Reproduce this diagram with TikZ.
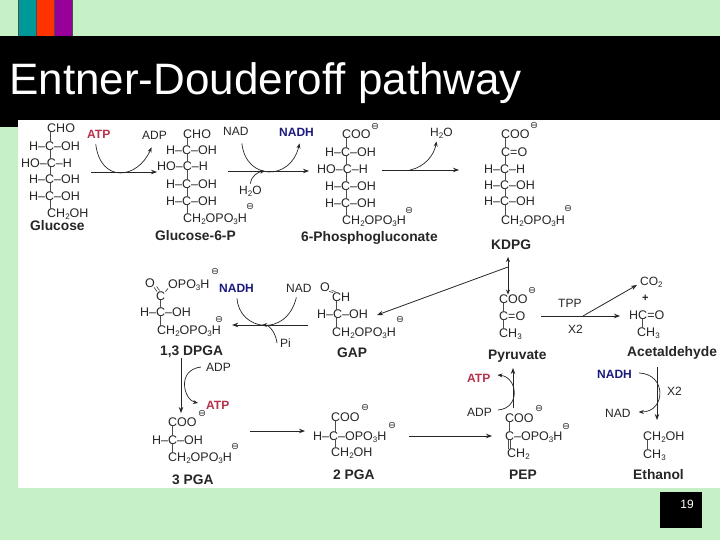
\documentclass[tikz,border=0pt]{standalone}
\usepackage{fontspec}
\setmainfont[Ligatures=NoCommon]{Liberation Sans}
\newfontfamily\djv{DejaVu Sans}
\usetikzlibrary{arrows.meta,calc}
\definecolor{slidegreen}{HTML}{C6F0C6}
\definecolor{atpred}{HTML}{B8304A}
\definecolor{nadblue}{HTML}{1B1B7F}
\definecolor{sqteal}{HTML}{009999}
\definecolor{sqorange}{HTML}{FF3300}
\definecolor{sqpurple}{HTML}{990099}
\newcommand\sbs[1]{\raisebox{-0.3ex}{\fontsize{8}{9}\selectfont #1}}
\newcommand\bnd[3]{\draw[bondline] (#3,0 |- #1.south) -- (#3,0 |- #2.north);}
\tikzset{
  chem/.style={anchor=west,inner sep=0pt,text height=8.5pt,text depth=0pt,font=\fontsize{12.5}{14}\selectfont,text=black!85},
  cof/.style={anchor=west,inner sep=0pt,text height=8.5pt,text depth=0pt,font=\fontsize{12}{14}\selectfont,text=black!85},
  redcof/.style={cof,font=\bfseries\fontsize{12}{14}\selectfont,text=atpred},
  bluecof/.style={cof,font=\bfseries\fontsize{12}{14}\selectfont,text=nadblue},
  lab/.style={anchor=west,inner sep=0pt,font=\bfseries\fontsize{13.8}{15}\selectfont,text=black!85},
  chg/.style={inner sep=0pt,font=\djv\fontsize{9.5}{10}\selectfont,text=black!85},
  bondline/.style={line width=0.7pt,black!70},
  rx/.style={line width=0.8pt,black!85,-{Stealth[length=6pt,width=4.5pt]}},
  cv/.style={line width=0.7pt,black!85},
  cva/.style={line width=0.7pt,black!85,-{Stealth[length=5pt,width=4pt]}},
}
\begin{document}
\begin{tikzpicture}[x=1pt,y=-1pt]
\useasboundingbox (0,0) rectangle (720,540);
% slide
\fill[slidegreen] (0,0) rectangle (720,540);
\filldraw[fill=sqteal,draw=black!70,line width=0.5pt] (18.5,-1) rectangle (36.5,36);
\filldraw[fill=sqorange,draw=black!70,line width=0.5pt] (36.5,-1) rectangle (54.5,36);
\filldraw[fill=sqpurple,draw=black!70,line width=0.5pt] (54.5,-1) rectangle (72.5,36);
\fill[black] (0,36) rectangle (720,120);
\fill[black] (0,120) rectangle (18,127);
\fill[white] (18,120) rectangle (720,488);
\node[anchor=west,inner sep=0pt,text=white,font=\fontsize{44}{46}\selectfont] (title) at (9,83) {Entner-Douderoff pathway};
\fill[black] (660,492) rectangle (702,528);
\node[inner sep=0pt,text=white,font=\fontsize{12}{14}\selectfont] (page) at (687,504) {19};

% Glucose
\node[chem] (gl1) at (47,128) {CHO};
\node[chem] (gl2) at (29,146) {H–C–OH};
\node[chem] (gl3) at (21,163) {HO–C–H};
\node[chem] (gl4) at (29,179) {H–C–OH};
\node[chem] (gl5) at (29,196) {H–C–OH};
\node[chem] (gl6) at (47,213) {CH\sbs{2}OH};
\node[lab] (gl) at (30,226) {Glucose};
\bnd{gl1}{gl2}{50}\bnd{gl2}{gl3}{50}\bnd{gl3}{gl4}{50}\bnd{gl4}{gl5}{50}\bnd{gl5}{gl6}{50}

% Glucose-6-P
\node[chem] (gp1) at (183,134) {CHO};
\node[chem] (gp2) at (166,150) {H–C–OH};
\node[chem] (gp3) at (157,166) {HO–C–H};
\node[chem] (gp4) at (166,184) {H–C–OH};
\node[chem] (gp5) at (166,201) {H–C–OH};
\node[chem] (gp6) at (183,218) {CH\sbs{2}OPO\sbs{3}H};
\node[chg] (gpc) at (250,207) {⊖};
\node[lab] (gp) at (155,236) {Glucose-6-P};
\bnd{gp1}{gp2}{187}\bnd{gp2}{gp3}{187}\bnd{gp3}{gp4}{187}\bnd{gp4}{gp5}{187}\bnd{gp5}{gp6}{187}

% 6-Phosphogluconate
\node[chem] (pg1) at (342,134) {COO};
\node[chg] (pg1c) at (375,127) {⊖};
\node[chem] (pg2) at (325,152) {H–C–OH};
\node[chem] (pg3) at (317,169) {HO–C–H};
\node[chem] (pg4) at (325,186) {H–C–OH};
\node[chem] (pg5) at (325,203) {H–C–OH};
\node[chem] (pg6) at (342,220) {CH\sbs{2}OPO\sbs{3}H};
\node[chg] (pg6c) at (409,211) {⊖};
\node[lab] (pg) at (301,238) {6-Phosphogluconate};
\bnd{pg1}{pg2}{346}\bnd{pg2}{pg3}{346}\bnd{pg3}{pg4}{346}\bnd{pg4}{pg5}{346}\bnd{pg5}{pg6}{346}

% KDPG
\node[chem] (kd1) at (501,134) {COO};
\node[chg] (kd1c) at (534,126) {⊖};
\node[chem] (kd2) at (501,152) {C=O};
\node[chem] (kd3) at (484,169) {H–C–H};
\node[chem] (kd4) at (484,185) {H–C–OH};
\node[chem] (kd5) at (484,201) {H–C–OH};
\node[chem] (kd6) at (501,220) {CH\sbs{2}OPO\sbs{3}H};
\node[chg] (kd6c) at (568,209) {⊖};
\node[lab] (kd) at (491,245) {KDPG};
\bnd{kd1}{kd2}{505}\bnd{kd2}{kd3}{505}\bnd{kd3}{kd4}{505}\bnd{kd4}{kd5}{505}\bnd{kd5}{kd6}{505}

% Pyruvate
\node[chem] (py1) at (499,299) {COO};
\node[chg] (py1c) at (532,291) {⊖};
\node[chem] (py2) at (499,316) {C=O};
\node[chem] (py3) at (499,333) {CH\sbs{3}};
\node[lab] (py) at (488,356) {Pyruvate};
\bnd{py1}{py2}{503}\bnd{py2}{py3}{503}

% Acetaldehyde
\node[cof] (co2) at (640,281) {CO\sbs{2}};
\node[chem,font=\bfseries\fontsize{11}{12}\selectfont] (plus) at (642,297) {+};
\node[chem] (ac1) at (629,315) {HC=O};
\node[chem] (ac2) at (637,332) {CH\sbs{3}};
\node[lab] (ac) at (627,353) {Acetaldehyde};
\bnd{ac1}{ac2}{642}

% Ethanol
\node[chem] (et1) at (643,436) {CH\sbs{2}OH};
\node[chem] (et2) at (643,454) {CH\sbs{3}};
\node[lab] (et) at (633,475) {Ethanol};
\bnd{et1}{et2}{647}

% GAP
\node[chem] (ga0) at (320,287) {O};
\node[chem] (ga1) at (332,297) {CH};
\node[chem] (ga2) at (317,314) {H–C–OH};
\node[chem] (ga3) at (332,332) {CH\sbs{2}OPO\sbs{3}H};
\node[chg] (ga3c) at (400,320) {⊖};
\node[lab] (ga) at (337,353) {GAP};
\bnd{ga1}{ga2}{336}\bnd{ga2}{ga3}{336}
\draw[bondline] ([xshift=-1pt]ga0.south east) -- ([xshift=1pt]ga1.north west);
\draw[bondline] ([xshift=1.5pt,yshift=1pt]ga0.south east) -- ([xshift=3.5pt,yshift=1pt]ga1.north west);

% 1,3 DPGA
\node[chem] (dp0) at (145,283) {O};
\node[chem] (dpo) at (168,284) {OPO\sbs{3}H};
\node[chg] (dpoc) at (215,272) {⊖};
\node[chem] (dpc) at (156,296) {C};
\node[chem] (dp1) at (140,312) {H–C–OH};
\node[chem] (dp2) at (157,330) {CH\sbs{2}OPO\sbs{3}H};
\node[chg] (dp2c) at (219,320) {⊖};
\node[lab] (dp) at (160,352) {1,3 DPGA};
\draw[bondline] ([xshift=-1pt]dp0.south east) -- ([xshift=1pt]dpc.north west);
\draw[bondline] ([xshift=1.5pt,yshift=1pt]dp0.south east) -- ([xshift=3.5pt,yshift=1pt]dpc.north west);
\draw[bondline] (dpc.north east) -- (dpo.south west);
\bnd{dpc}{dp1}{160}\bnd{dp1}{dp2}{160}

% 3 PGA
\node[chem] (tp1) at (168,422) {COO};
\node[chg] (tp1c) at (202,414) {⊖};
\node[chem] (tp2) at (152,440) {H–C–OH};
\node[chem] (tp3) at (168,457) {CH\sbs{2}OPO\sbs{3}H};
\node[chg] (tp3c) at (235,447) {⊖};
\node[lab] (tp) at (172,480) {3 PGA};
\bnd{tp1}{tp2}{172}\bnd{tp2}{tp3}{172}

% 2 PGA
\node[chem] (sp1) at (331,417) {COO};
\node[chg] (sp1c) at (365,408) {⊖};
\node[chem] (sp2) at (313,436) {H–C–OPO\sbs{3}H};
\node[chg] (sp2c) at (392,426) {⊖};
\node[chem] (sp3) at (331,452) {CH\sbs{2}OH};
\node[lab] (sp) at (333,475) {2 PGA};
\bnd{sp1}{sp2}{335}\bnd{sp2}{sp3}{335}

% PEP
\node[chem] (pe1) at (505,418) {COO};
\node[chg] (pe1c) at (539,409) {⊖};
\node[chem] (pe2) at (505,436) {C–OPO\sbs{3}H};
\node[chg] (pe2c) at (566,427) {⊖};
\node[chem] (pe3) at (507,453) {CH\sbs{2}};
\node[lab] (pe) at (509,475) {PEP};
\bnd{pe1}{pe2}{509}
\draw[bondline] (508.2,0 |- pe2.south) -- (508.2,0 |- pe3.north);
\draw[bondline] (510.2,0 |- pe2.south) -- (510.2,0 |- pe3.north);

% Cofactors
\node[redcof] (atp1) at (87,134) {ATP};
\node[cof] (adp1) at (142,135) {ADP};
\node[cof] (nad1) at (223,131) {NAD};
\node[bluecof] (nadh1) at (279,132) {NADH};
\node[cof] (wat1) at (239,190) {H\sbs{2}O};
\node[cof] (wat2) at (430,132) {H\sbs{2}O};
\node[cof] (tpp) at (558,303) {TPP};
\node[cof] (x2a) at (568,329) {X2};
\node[bluecof] (nadh2) at (219,288) {NADH};
\node[cof] (nad2) at (286,288) {NAD};
\node[cof] (pi) at (280,343) {Pi};
\node[cof] (adp2) at (206,367) {ADP};
\node[redcof] (atp2) at (206,405) {ATP};
\node[redcof] (atp3) at (467,378) {ATP};
\node[cof] (adp3) at (467,412) {ADP};
\node[bluecof] (nadh3) at (597,374) {NADH};
\node[cof] (nad3) at (605,413) {NAD};
\node[cof] (x2b) at (667,391) {X2};

% Reaction arrows
\draw[rx] ([xshift=19pt,yshift=-9pt]gl3.east) -- ([yshift=-6pt]gp3.west);
\draw[rx] ([xshift=-89pt,yshift=-2pt]pg3.west) -- ([xshift=-8pt,yshift=-2pt]pg3.west);
\draw[rx] ([xshift=14pt,yshift=-1pt]pg3.east) -- ([xshift=-25pt,yshift=-1pt]kd3.west);
\coordinate (kdin) at (508,257);
\coordinate (junc) at (508,267);
\draw[rx,{Stealth[length=5pt,width=4pt]}-{Stealth[length=5pt,width=4pt]}] (kdin) -- (py1.north -| junc);
\draw[rx] (junc) -- ([xshift=9pt,yshift=-1pt]ga2.east);
\draw[rx] ([xshift=16pt]py2.east) -- ([xshift=-9pt,yshift=-1pt]ac1.west);
\coordinate (brk) at (583,316);
\draw[rx] (brk) -- ([xshift=-3pt,yshift=-4pt]co2.west);
\draw[rx] ([xshift=-24pt,yshift=7pt]ga3.west) -- ([xshift=11pt,yshift=5pt]dp2.east);
\coordinate (dpbot) at (181,358);
\coordinate (tptop) at (181,413);
\draw[rx] (dpbot) -- (tptop);
\draw[rx] ([xshift=47pt,yshift=9pt]tp2.east) -- ([xshift=-8pt,yshift=5pt]sp2.west);
\draw[rx] ([xshift=22pt]sp2.east) -- ([xshift=-13pt]pe2.west);
\coordinate (pebot) at (513,408);
\coordinate (pytop) at (513,368);
\draw[rx] (pebot) -- (pytop);
\coordinate (actbot) at (657,367);
\coordinate (ettop) at (657,420);
\draw[rx] (actbot) -- (ettop);

% Cofactor curves (second control point is relative to the curve's end)
\draw[cva] ([xshift=-3pt,yshift=-6pt]atp1.south) .. controls +(5,39) and +(-14,32) .. ([xshift=-3pt,yshift=-8pt]adp1.south);
\draw[cva] ([xshift=6pt,yshift=-8pt]nad1.south) .. controls +(4,37) and +(-9,38) .. ([xshift=3pt,yshift=-7pt]nadh1.south);
\coordinate (wjn) at (265,171);
\draw[cva] ([yshift=2pt]wat1.north) .. controls +(1,-8) and +(-7,1) .. (wjn);
\coordinate (kjn) at (410,170);
\draw[cva] (kjn) .. controls +(15,-3) and +(-2,13) .. ([xshift=-5pt,yshift=-5pt]wat2.south);
\draw[cv] ([xshift=0.5pt,yshift=-6pt]nadh2.south) .. controls +(2,32) and +(-10,41) .. ([xshift=-2.5pt,yshift=-5pt]nad2.south);
\coordinate (pjn) at (262,325);
\draw[cva] ([xshift=-3pt]pi.west) .. controls +(-1,-9) and +(8,0) .. (pjn);
\draw[cva] ([xshift=-5pt]adp2.west) .. controls +(-25,3) and +(-14,-3) .. ([xshift=-8pt,yshift=2pt]atp2.west);
\draw[cva] ([xshift=6pt,yshift=2pt]adp3.east) .. controls +(23,-2) and +(20,2) .. ([xshift=7pt,yshift=3pt]atp3.east);
\draw[cva] ([xshift=7pt,yshift=1pt]nadh3.east) .. controls +(28,1) and +(27,0) .. ([xshift=8pt,yshift=1pt]nad3.east);
\end{tikzpicture}
\end{document}
